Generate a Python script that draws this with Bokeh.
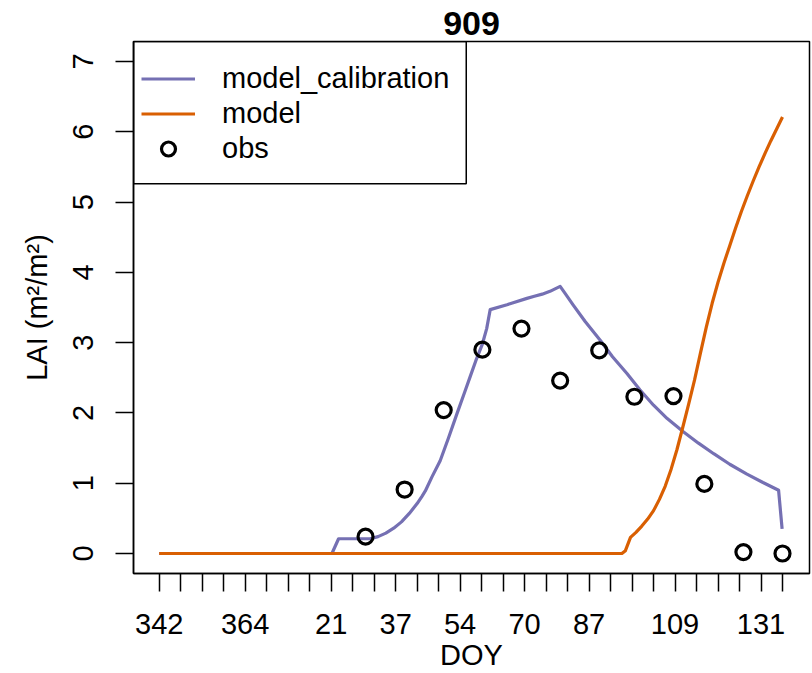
from bokeh.plotting import figure
from bokeh.models import (Range1d, FixedTicker, Legend, LegendItem, BoxAnnotation)
from bokeh.embed import file_html
from bokeh.resources import INLINE

# Days counted from DOY 342 (start of the season)
calib_day = [0, 44.2, 45.9, 54.0, 56.0, 58.0, 60.0, 62.0, 64.0, 66.0, 67.2, 68.1,
             69.8, 71.9, 74.0, 76.2, 78.0, 79.6, 81.0, 82.7, 83.8, 84.7,
             89.0, 94.1, 96.0, 98.0, 100.0, 102.6, 104.0, 106.0, 109.0, 112.9,
             116.0, 119.7, 123.0, 126.5, 130.0, 134.2, 138.0, 141.9, 146.0,
             150.4, 154.5, 158.5, 159.4]
calib_lai = [0, 0, 0.21, 0.21, 0.24, 0.29, 0.36, 0.45, 0.57, 0.71, 0.81, 0.89,
             1.09, 1.32, 1.64, 1.99, 2.27, 2.52, 2.74, 2.98, 3.20, 3.47,
             3.54, 3.63, 3.66, 3.69, 3.73, 3.80, 3.69, 3.53, 3.30, 3.03,
             2.80, 2.56, 2.33, 2.11, 1.92, 1.73, 1.57, 1.42, 1.27,
             1.13, 1.01, 0.90, 0.35]

model_day = [0, 118.4, 119.3, 120.6, 122.0, 123.5, 125.0, 126.5, 128.0, 129.5,
             131.0, 132.5, 134.0, 135.5, 137.0, 138.5, 140.0, 141.5, 143.0,
             144.5, 146.0, 147.5, 149.0, 150.5, 152.0, 153.5, 155.0, 156.5,
             158.0, 159.5]
model_lai = [0, 0, 0.04, 0.23, 0.30, 0.39, 0.49, 0.61, 0.77, 0.96,
             1.20, 1.48, 1.80, 2.13, 2.47, 2.85, 3.22, 3.56, 3.86,
             4.13, 4.38, 4.63, 4.87, 5.09, 5.30, 5.50, 5.69, 5.87,
             6.04, 6.21]

obs_day = [52.8, 62.8, 72.8, 82.7, 92.7, 102.6, 112.6, 121.6, 131.6, 139.5, 149.5, 159.5]
obs_lai = [0.24, 0.91, 2.04, 2.90, 3.20, 2.46, 2.89, 2.23, 2.24, 0.99, 0.02, 0.00]

# Axis ticks every 5.5 days; only non-overlapping DOY labels are shown
tick_day = [i * 5.5 for i in range(30)]
tick_labels = ["342", "", "", "", "364", "", "", "", "21", "", "", "37", "", "",
               "54", "", "", "70", "", "", "87", "", "", "", "109", "", "", "",
               "131", ""]

FONT = "Liberation Sans"
FS = "29px"

X0, X1 = -6.58, 166.41
Y0, Y1 = -0.2845, 7.2845

p = figure(frame_width=676, frame_height=532,
           min_border_left=133, min_border_right=3,
           min_border_top=41, min_border_bottom=100,
           x_range=Range1d(X0, X1), y_range=Range1d(Y0, Y1),
           output_backend="svg", toolbar_location=None)

p.background_fill_color = "white"
p.border_fill_color = "white"
p.outline_line_color = "black"
p.outline_line_width = 1.5
p.grid.visible = False

p.title.text = "909"
p.title.align = "center"
p.title.text_font = FONT
p.title.text_font_size = "34px"
p.title.text_font_style = "bold"
p.title.text_color = "black"
p.title.text_line_height = 0.6
p.title.standoff = 13

# x axis
xa = p.xaxis[0]
xa.ticker = FixedTicker(ticks=tick_day)
xa.major_label_overrides = {t: lab for t, lab in zip(tick_day, tick_labels)}
xa.axis_label = "DOY"

# y axis
ya = p.yaxis[0]
ya.ticker = FixedTicker(ticks=[0, 1, 2, 3, 4, 5, 6, 7])
ya.axis_label = "LAI (m²/m²)"
ya.major_label_orientation = "vertical"

for ax in (xa, ya):
    ax.axis_line_color = "black"
    ax.axis_line_width = 1.5
    ax.major_tick_line_color = "black"
    ax.major_tick_line_width = 1.5
    ax.major_tick_out = 18
    ax.major_tick_in = 0
    ax.minor_tick_line_color = None
    ax.major_label_text_font = FONT
    ax.major_label_text_font_size = FS
    ax.major_label_text_color = "black"
    ax.axis_label_text_font = FONT
    ax.axis_label_text_font_size = FS
    ax.axis_label_text_font_style = "normal"
    ax.axis_label_text_color = "black"

xa.major_label_standoff = 22
xa.axis_label_standoff = 2
ya.major_label_standoff = 22
ya.axis_label_standoff = 18

purple = "#7570B3"
orange = "#D95F02"

r_cal = p.line(calib_day, calib_lai, line_color=purple, line_width=3.2,
               line_join="round")
r_mod = p.line(model_day, model_lai, line_color=orange, line_width=3.2,
               line_join="round")
r_obs = p.scatter(obs_day, obs_lai, marker="circle", size=15,
                  fill_color=None, line_color="black", line_width=3.2)

# legend frame
p.add_layout(BoxAnnotation(left=X0, right=78.57, top=Y1, bottom=5.259,
                           fill_color="white", fill_alpha=0.0,
                           line_color="black", line_alpha=1.0, line_width=1.5))

legend = Legend(items=[LegendItem(label="model_calibration", renderers=[r_cal]),
                       LegendItem(label="model", renderers=[r_mod]),
                       LegendItem(label="obs", renderers=[r_obs])],
                location=(8, 407), padding=0, spacing=0, margin=0,
                glyph_width=54, glyph_height=35, label_height=35,
                label_standoff=27,
                label_text_font=FONT, label_text_font_size=FS,
                label_text_color="black",
                border_line_color=None, background_fill_alpha=0.0)
p.add_layout(legend)

open("out.html", "w").write(file_html(p, INLINE))
